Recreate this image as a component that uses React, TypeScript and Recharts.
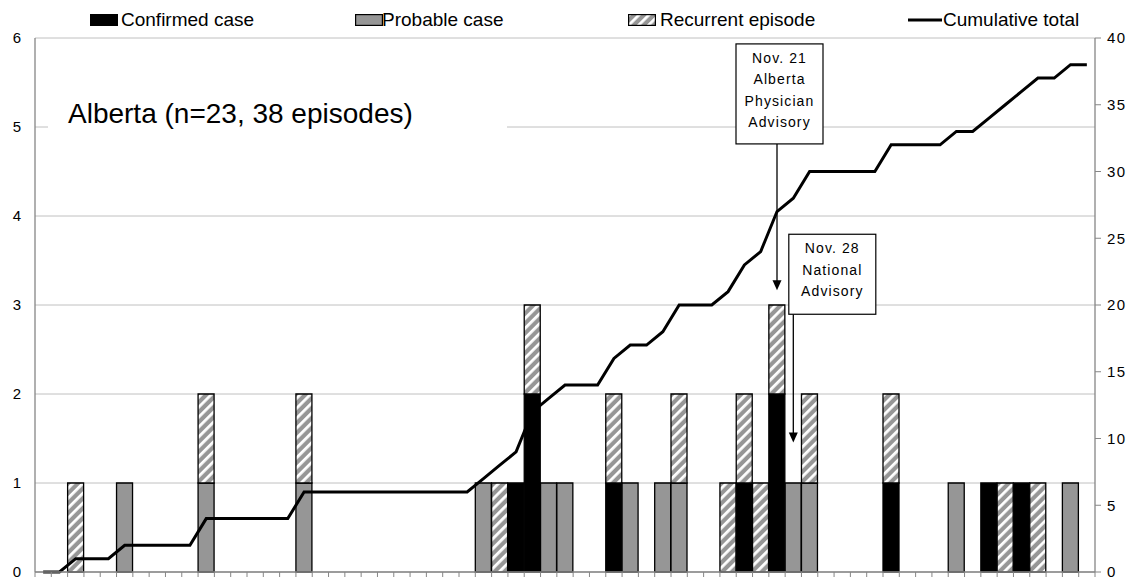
import React from "react";
import {
  ComposedChart,
  Bar,
  Line,
  XAxis,
  YAxis,
  CartesianGrid,
  ReferenceLine,
  ReferenceDot,
} from "recharts";

// Categories (episode onset periods, unlabeled on the original axis)
const days = [
  "1", "2", "3", "4", "5", "6", "7", "8", "9", "10",
  "11", "12", "13", "14", "15", "16", "17", "18", "19", "20",
  "21", "22", "23", "24", "25", "26", "27", "28", "29", "30",
  "31", "32", "33", "34", "35", "36", "37", "38", "39", "40",
  "41", "42", "43", "44", "45", "46", "47", "48", "49", "50",
  "51", "52", "53", "54", "55", "56", "57", "58", "59", "60",
  "61", "62", "63", "64", "65",
];

const confirmed = [
  0, 0, 0, 0, 0, 0, 0, 0, 0, 0,
  0, 0, 0, 0, 0, 0, 0, 0, 0, 0,
  0, 0, 0, 0, 0, 0, 0, 0, 0, 1,
  2, 0, 0, 0, 0, 1, 0, 0, 0, 0,
  0, 0, 0, 1, 0, 2, 0, 0, 0, 0,
  0, 0, 1, 0, 0, 0, 0, 0, 1, 0,
  1, 0, 0, 0, 0,
];

const probable = [
  0, 0, 0, 0, 0, 1, 0, 0, 0, 0,
  1, 0, 0, 0, 0, 0, 1, 0, 0, 0,
  0, 0, 0, 0, 0, 0, 0, 1, 0, 0,
  0, 1, 1, 0, 0, 0, 1, 0, 1, 1,
  0, 0, 0, 0, 0, 0, 1, 1, 0, 0,
  0, 0, 0, 0, 0, 0, 1, 0, 0, 0,
  0, 0, 0, 1, 0,
];

const recurrent = [
  0, 0, 1, 0, 0, 0, 0, 0, 0, 0,
  1, 0, 0, 0, 0, 0, 1, 0, 0, 0,
  0, 0, 0, 0, 0, 0, 0, 0, 1, 0,
  1, 0, 0, 0, 0, 1, 0, 0, 0, 1,
  0, 0, 1, 1, 1, 1, 0, 1, 0, 0,
  0, 0, 1, 0, 0, 0, 0, 0, 0, 1,
  0, 1, 0, 0, 0,
];

const cumulative = [
  0, 0, 1, 1, 1, 2, 2, 2, 2, 2,
  4, 4, 4, 4, 4, 4, 6, 6, 6, 6,
  6, 6, 6, 6, 6, 6, 6, 7, 8, 9,
  12, 13, 14, 14, 14, 16, 17, 17, 18, 20,
  20, 20, 21, 23, 24, 27, 28, 30, 30, 30,
  30, 30, 32, 32, 32, 32, 33, 33, 34, 35,
  36, 37, 37, 38, 38,
];

const leftTicks = [0, 1, 2, 3, 4, 5, 6];
const rightTicks = [0, 5, 10, 15, 20, 25, 30, 35, 40];

const title = "Alberta (n=23, 38 episodes)";
const advisory1 = ["Nov. 21", "Alberta", "Physician", "Advisory"];
const advisory2 = ["Nov. 28", "National", "Advisory"];

const data = days.map((d, i) => ({
  day: d,
  confirmed: confirmed[i],
  probable: probable[i],
  recurrent: recurrent[i],
  cumulative: cumulative[i],
}));

const AXIS = "#868686";
const GRID = "#c0c0c0";
const GRAY = "#969696";
const FONT = "'Liberation Sans', Arial, sans-serif";

const Hatch = ({ id }: { id: string }) => (
  <pattern
    id={id}
    patternUnits="userSpaceOnUse"
    width={7}
    height={7}
    patternTransform="rotate(45)"
  >
    <rect x={0} y={0} width={7} height={7} fill={GRAY} />
    <rect x={0} y={0} width={2.8} height={7} fill="#ffffff" />
  </pattern>
);

// Tick marks sit on category boundaries (between bars), like the original
const BoundaryTick = (props: any) => {
  const { x, y, payload, index, visibleTicksCount, width } = props;
  const half =
    payload && typeof payload.offset === "number" && payload.offset > 0
      ? payload.offset
      : width / (2 * (visibleTicksCount || days.length));
  const top = y - 5;
  return (
    <g>
      <line x1={x - half} y1={top} x2={x - half} y2={top + 5} stroke={AXIS} strokeWidth={1} />
      {index === (visibleTicksCount || days.length) - 1 ? (
        <line x1={x + half} y1={top} x2={x + half} y2={top + 5} stroke={AXIS} strokeWidth={1} />
      ) : null}
    </g>
  );
};

const arrowShape = (props: any) => {
  const { x1, y1, x2, y2 } = props;
  return (
    <g>
      <line x1={x1} y1={y1} x2={x2} y2={y2 - 9} stroke="#000" strokeWidth={1.3} />
      <polygon
        points={`${x2 - 4.5},${y2 - 10} ${x2 + 4.5},${y2 - 10} ${x2},${y2}`}
        fill="#000"
      />
    </g>
  );
};

const makeBox =
  (lines: string[], w: number, h: number, dx: number, firstBase: number, step: number) =>
  (props: any) => {
    const { cx, cy } = props;
    const left = cx + dx - w / 2;
    const top = cy - h;
    return (
      <g>
        <rect x={left} y={top} width={w} height={h} fill="#fff" stroke="#000" strokeWidth={1.2} />
        {lines.map((t, i) => (
          <text
            key={i}
            x={cx + dx}
            y={top + firstBase + i * step}
            textAnchor="middle"
            fontFamily={FONT}
            fontSize={14}
            letterSpacing={1.1}
            fill="#000"
          >
            {t}
          </text>
        ))}
      </g>
    );
  };

const legendItems = [
  { label: "Confirmed case", kind: "confirmed", sx: 90, tx: 121 },
  { label: "Probable case", kind: "probable", sx: 355, tx: 382 },
  { label: "Recurrent episode", kind: "recurrent", sx: 628, tx: 660 },
  { label: "Cumulative total", kind: "line", sx: 908, tx: 943 },
];

const LegendSwatch = ({ kind }: { kind: string }) => {
  if (kind === "line") {
    return (
      <svg width={34} height={12} style={{ display: "block" }}>
        <line x1={0} y1={6} x2={34} y2={6} stroke="#000" strokeWidth={3} />
      </svg>
    );
  }
  const fill = kind === "confirmed" ? "#000" : kind === "probable" ? GRAY : "url(#hatchLegend)";
  return (
    <svg width={28} height={12} style={{ display: "block" }}>
      <defs>
        <Hatch id="hatchLegend" />
      </defs>
      <rect x={0.6} y={0.6} width={26.8} height={10.8} fill={fill} stroke="#000" strokeWidth={1.2} />
    </svg>
  );
};

export default function App() {
  return (
    <div
      style={{
        position: "absolute",
        left: 0,
        top: 0,
        width: 1127,
        height: 580,
        background: "#fff",
        fontFamily: FONT,
        overflow: "hidden",
      }}
    >
      <ComposedChart
        width={1127}
        height={580}
        data={data}
        margin={{ top: 38, right: 2, bottom: 0, left: 10 }}
        barCategoryGap={0}
        barGap={0}
      >
        <defs>
          <Hatch id="hatchBar" />
        </defs>
        <CartesianGrid
          xAxisId="cat"
          yAxisId="left"
          vertical={false}
          stroke={GRID}
          strokeWidth={1}
        />
        <XAxis
          xAxisId="cat"
          dataKey="day"
          type="category"
          interval={0}
          height={8}
          tickSize={5}
          tickMargin={0}
          tickLine={false}
          tick={BoundaryTick}
          axisLine={{ stroke: AXIS, strokeWidth: 1.3 }}
        />
        <YAxis
          yAxisId="left"
          domain={[0, 6]}
          ticks={leftTicks}
          interval={0}
          width={25}
          tickSize={0}
          tickMargin={14}
          axisLine={{ stroke: AXIS, strokeWidth: 1.3 }}
          tickLine={false}
          tick={{ fill: "#000", fontSize: 15, fontFamily: FONT }}
        />
        <YAxis
          yAxisId="right"
          orientation="right"
          domain={[0, 40]}
          ticks={rightTicks}
          interval={0}
          width={30}
          tickSize={6}
          tickMargin={6}
          axisLine={{ stroke: AXIS, strokeWidth: 1.3 }}
          tickLine={{ stroke: AXIS }}
          tick={{ fill: "#000", fontSize: 15, fontFamily: FONT, letterSpacing: 1.5 }}
        />
        <Bar
          xAxisId="cat"
          yAxisId="left"
          dataKey="confirmed"
          stackId="s"
          fill="#000"
          stroke="#000"
          strokeWidth={1.3}
          isAnimationActive={false}
        />
        <Bar
          xAxisId="cat"
          yAxisId="left"
          dataKey="probable"
          stackId="s"
          fill={GRAY}
          stroke="#000"
          strokeWidth={1.3}
          isAnimationActive={false}
        />
        <Bar
          xAxisId="cat"
          yAxisId="left"
          dataKey="recurrent"
          stackId="s"
          fill="url(#hatchBar)"
          stroke="#000"
          strokeWidth={1.3}
          isAnimationActive={false}
        />
        <Line
          xAxisId="cat"
          yAxisId="right"
          type="linear"
          dataKey="cumulative"
          stroke="#000"
          strokeWidth={3}
          dot={false}
          activeDot={false}
          isAnimationActive={false}
        />
        <ReferenceLine
          xAxisId="cat"
          yAxisId="left"
          segment={[
            { x: "46", y: 4.81 },
            { x: "46", y: 3.166 },
          ]}
          ifOverflow="visible"
          shape={arrowShape}
        />
        <ReferenceLine
          xAxisId="cat"
          yAxisId="left"
          segment={[
            { x: "47", y: 2.896 },
            { x: "47", y: 1.456 },
          ]}
          ifOverflow="visible"
          shape={arrowShape}
        />
        <ReferenceDot
          xAxisId="cat"
          yAxisId="left"
          x="46"
          y={4.81}
          ifOverflow="visible"
          shape={makeBox(advisory1, 87, 100, 2.5, 19, 21.3)}
        />
        <ReferenceDot
          xAxisId="cat"
          yAxisId="left"
          x="47"
          y={2.896}
          ifOverflow="visible"
          shape={makeBox(advisory2, 87, 80, 39, 19, 21.3)}
        />
      </ComposedChart>

      <div
        style={{
          position: "absolute",
          left: 48,
          top: 89,
          width: 459,
          height: 50,
          background: "#fff",
          fontSize: 28,
          lineHeight: "50px",
          paddingLeft: 20,
          boxSizing: "border-box",
          color: "#000",
          whiteSpace: "nowrap",
        }}
      >
        {title}
      </div>

      {legendItems.map((it) => (
        <React.Fragment key={it.label}>
          <div style={{ position: "absolute", left: it.sx, top: 14 }}>
            <LegendSwatch kind={it.kind} />
          </div>
          <div
            style={{
              position: "absolute",
              left: it.tx,
              top: 9,
              fontSize: 19,
              lineHeight: "22px",
              color: "#000",
              whiteSpace: "nowrap",
            }}
          >
            {it.label}
          </div>
        </React.Fragment>
      ))}
    </div>
  );
}
